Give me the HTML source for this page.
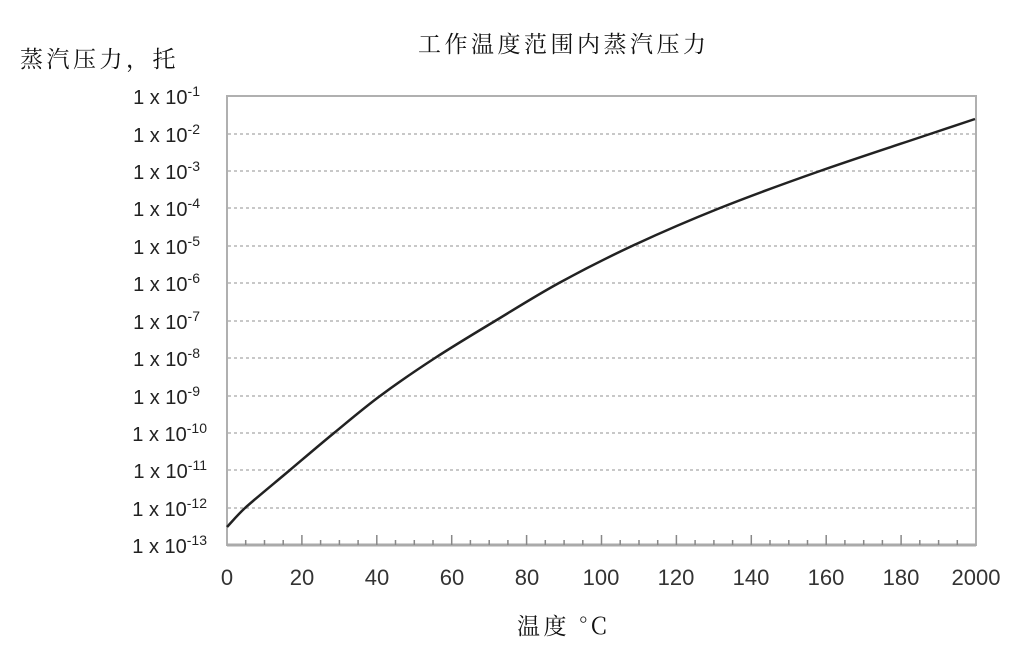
<!DOCTYPE html><html><head><meta charset="utf-8"><style>body{margin:0;background:#fff;}svg{display:block}</style></head><body>
<svg width="1036" height="658" xmlns="http://www.w3.org/2000/svg">
<g font-family="'Noto Serif CJK SC','Noto Sans CJK SC',serif" font-size="23" fill="#111" letter-spacing="3.5">
<text x="20" y="67">蒸汽压力，托</text>
<text x="418" y="52">工作温度范围内蒸汽压力</text>
<text x="517" y="634">温度 °C</text>
</g>
<g stroke="#c8c8c8" stroke-width="2" stroke-dasharray="3,3">
<line x1="228" y1="134" x2="975" y2="134"/><line x1="228" y1="171" x2="975" y2="171"/><line x1="228" y1="208" x2="975" y2="208"/><line x1="228" y1="246" x2="975" y2="246"/><line x1="228" y1="283" x2="975" y2="283"/><line x1="228" y1="321" x2="975" y2="321"/><line x1="228" y1="358" x2="975" y2="358"/><line x1="228" y1="396" x2="975" y2="396"/><line x1="228" y1="433" x2="975" y2="433"/><line x1="228" y1="470" x2="975" y2="470"/><line x1="228" y1="508" x2="975" y2="508"/>
</g>
<rect x="227" y="96" width="749" height="449" fill="none" stroke="#b0b0b0" stroke-width="2"/>
<line x1="227" y1="545" x2="976" y2="545" stroke="#aaa" stroke-width="3"/>
<path stroke="#888" stroke-width="1.5" fill="none" d="M245.7,545v-5M264.5,545v-5M283.2,545v-5M301.9,545v-10M320.6,545v-5M339.4,545v-5M358.1,545v-5M376.8,545v-10M395.5,545v-5M414.3,545v-5M433,545v-5M451.7,545v-10M470.4,545v-5M489.2,545v-5M507.9,545v-5M526.6,545v-10M545.3,545v-5M564.1,545v-5M582.8,545v-5M601.5,545v-10M620.2,545v-5M639,545v-5M657.7,545v-5M676.4,545v-10M695.1,545v-5M713.9,545v-5M732.6,545v-5M751.3,545v-10M770,545v-5M788.8,545v-5M807.5,545v-5M826.2,545v-10M844.9,545v-5M863.7,545v-5M882.4,545v-5M901.1,545v-10M919.8,545v-5M938.6,545v-5M957.3,545v-5"/>
<path fill="none" stroke="#222" stroke-width="2.5" d="M227,527 C233,520.5 238,514.5 245,508 C255.5,498.5 275.2,482.5 290,470 C304.8,457.5 319,445.3 334,433 C349,420.7 363.2,408.5 380,396 C396.8,383.5 415.8,370.5 435,358 C454.2,345.5 474.3,333.5 495,321 C515.7,308.5 536.2,295.5 559,283 C581.8,270.5 605.2,258.5 632,246 C658.8,233.5 688.7,220.5 720,208 C751.3,195.5 785,183.3 820,171 C855,158.7 904.2,142.7 930,134 C955.8,125.3 967.5,121.5 975,119"/>
<g font-family="'Liberation Sans',sans-serif" font-size="20" fill="#222" text-anchor="end">
<text x="200" y="104">1 x 10<tspan dy="-8" font-size="14">-1</tspan></text>
<text x="200" y="142">1 x 10<tspan dy="-8" font-size="14">-2</tspan></text>
<text x="200" y="179">1 x 10<tspan dy="-8" font-size="14">-3</tspan></text>
<text x="200" y="216">1 x 10<tspan dy="-8" font-size="14">-4</tspan></text>
<text x="200" y="254">1 x 10<tspan dy="-8" font-size="14">-5</tspan></text>
<text x="200" y="291">1 x 10<tspan dy="-8" font-size="14">-6</tspan></text>
<text x="200" y="329">1 x 10<tspan dy="-8" font-size="14">-7</tspan></text>
<text x="200" y="366">1 x 10<tspan dy="-8" font-size="14">-8</tspan></text>
<text x="200" y="404">1 x 10<tspan dy="-8" font-size="14">-9</tspan></text>
<text x="207" y="441">1 x 10<tspan dy="-8" font-size="14">-10</tspan></text>
<text x="207" y="478">1 x 10<tspan dy="-8" font-size="14">-11</tspan></text>
<text x="207" y="516">1 x 10<tspan dy="-8" font-size="14">-12</tspan></text>
<text x="207" y="553">1 x 10<tspan dy="-8" font-size="14">-13</tspan></text>
</g>
<g font-family="'Liberation Sans',sans-serif" font-size="22" fill="#333" text-anchor="middle">
<text x="227" y="585">0</text><text x="302" y="585">20</text><text x="377" y="585">40</text><text x="452" y="585">60</text><text x="527" y="585">80</text><text x="601" y="585">100</text><text x="676" y="585">120</text><text x="751" y="585">140</text><text x="826" y="585">160</text><text x="901" y="585">180</text><text x="976" y="585">2000</text>
</g>
</svg></body></html>
